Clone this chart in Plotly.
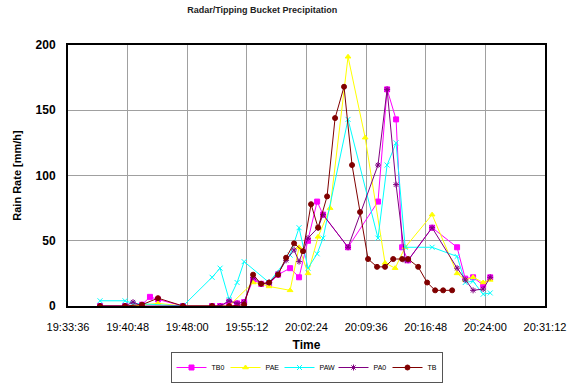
import plotly.graph_objects as go

DAY = "2000-01-01 "

tb0_t = ["19:37:28", "19:40:29", "19:42:32", "19:43:30", "19:44:28", "19:47:29", "19:51:00", "19:51:58",
         "19:53:03", "19:54:01", "19:54:52", "19:55:57", "19:56:55", "19:57:53", "19:58:58", "20:00:25",
         "20:01:30", "20:02:35", "20:03:41", "20:04:24", "20:07:25", "20:11:02", "20:12:08", "20:13:13",
         "20:13:57", "20:14:40", "20:17:34", "20:20:35", "20:21:34", "20:22:31", "20:23:44", "20:24:35"]
tb0_v = [0, 0, 1, 7, 5, 0, 0, 0, 3, 2, 3, 20, 17, 17, 24, 29, 22, 50, 80, 70, 45, 80, 166, 143,
         45, 35, 60, 45, 21, 22, 16, 22]

pae_t = ["19:41:27", "19:44:28", "19:47:29", "19:53:03", "19:55:57", "19:56:55", "19:57:53", "20:00:25",
         "20:01:30", "20:02:35", "20:03:48", "20:05:15", "20:07:25", "20:09:29", "20:11:53", "20:13:06",
         "20:14:19", "20:17:34", "20:20:35", "20:21:34", "20:22:31", "20:23:44", "20:24:35"]
pae_v = [0, 2, 0, 0, 18, 17, 15, 12, 45, 25, 53, 75, 191, 129, 33, 29, 45, 70, 25, 20, 22, 18, 20]

paw_t = ["19:37:28", "19:40:29", "19:41:27", "19:47:29", "19:51:00", "19:51:58", "19:53:03", "19:54:01",
         "19:54:52", "19:57:53", "20:00:25", "20:01:30", "20:02:35", "20:03:41", "20:04:24", "20:07:25",
         "20:11:02", "20:12:08", "20:13:13", "20:14:19", "20:17:34", "20:20:35", "20:21:34", "20:22:31",
         "20:23:44", "20:24:35"]
paw_v = [4, 4, 2, 0, 22, 29, 5, 18, 34, 18, 39, 60, 29, 40, 52, 143, 52, 108, 125, 45, 45, 38, 18, 19,
         9, 10]

pa0_t = ["19:37:28", "19:40:29", "19:41:27", "19:42:32", "19:47:29", "19:51:00", "19:51:58", "19:53:03",
         "19:54:01", "19:54:52", "19:55:57", "19:56:55", "19:57:53", "19:58:58", "19:59:56", "20:00:54",
         "20:01:30", "20:02:35", "20:03:48", "20:04:24", "20:07:25", "20:11:02", "20:12:08", "20:13:13",
         "20:14:19", "20:14:40", "20:17:34", "20:20:35", "20:21:34", "20:22:31", "20:23:44", "20:24:35"]
pa0_v = [0, 0, 3, 0, 0, 0, 0, 4, 2, 3, 22, 17, 18, 25, 35, 43, 34, 52, 60, 70, 45, 108, 166, 93,
         35, 35, 60, 29, 20, 12, 13, 22]

tb_t = ["19:37:28", "19:40:29", "19:42:32", "19:44:28", "19:47:29", "19:51:00", "19:53:03", "19:54:52",
        "19:55:57", "19:56:55", "19:57:53", "19:58:58", "19:59:56", "20:00:54", "20:01:59", "20:02:57",
        "20:03:48", "20:04:53", "20:05:51", "20:06:56", "20:07:54", "20:08:52", "20:09:50", "20:10:55",
        "20:11:53", "20:12:52", "20:13:57", "20:14:40", "20:15:53", "20:16:58", "20:17:56", "20:18:54",
        "20:19:59"]
tb_v = [0, 0, 1, 6, 0, 0, 0, 1, 24, 17, 18, 24, 37, 48, 42, 78, 60, 84, 144, 168, 108, 72, 36, 30,
        30, 36, 36, 36, 30, 18, 12, 12, 12]

x_ticks = ["19:33:36", "19:40:48", "19:48:00", "19:55:12", "20:02:24", "20:09:36", "20:16:48",
           "20:24:00", "20:31:12"]
y_ticks = [0, 50, 100, 150, 200]

series = [
    ("TB0", tb0_t, tb0_v, "#FF00FF", "square"),
    ("PAE", pae_t, pae_v, "#FFFF00", "triangle-up"),
    ("PAW", paw_t, paw_v, "#00FFFF", "x-thin-open"),
    ("PA0", pa0_t, pa0_v, "#800080", "asterisk-open"),
    ("TB", tb_t, tb_v, "#800000", "circle"),
]

fig = go.Figure()
for name, t, v, col, sym in series:
    fig.add_trace(go.Scatter(
        x=[DAY + s for s in t], y=v, name=name, mode="lines+markers",
        line=dict(color=col, width=1),
        marker=dict(color=col, symbol=sym, size=5, line=dict(color=col, width=1)),
    ))

fig.update_layout(
    width=575, height=383,
    margin=dict(l=68, r=30, t=45, b=77, autoexpand=False),
    paper_bgcolor="white", plot_bgcolor="white",
    font=dict(family="Liberation Sans, Arial, sans-serif", color="black"),
    title=dict(text="<b>Radar/Tipping Bucket Precipitation</b>", x=0.456, xanchor="center",
               y=0.982, yanchor="top", font=dict(size=9, color="#222")),
    showlegend=True,
    legend=dict(orientation="h", x=0.5, xanchor="center", yref="container", y=0.0, yanchor="bottom",
                bordercolor="#555", borderwidth=1, font=dict(size=7),
                itemwidth=30, entrywidth=9, entrywidthmode="pixels"),
)
fig.update_xaxes(
    type="date",
    range=[DAY + x_ticks[0], DAY + x_ticks[-1]],
    tickvals=[DAY + s for s in x_ticks], ticktext=x_ticks,
    showgrid=True, gridcolor="#A0A0A0", gridwidth=1,
    showline=True, linecolor="black", linewidth=2, mirror=True,
    ticks="", tickfont=dict(size=11), zeroline=False, ticklabelstandoff=10,
    title=dict(text="<b>Time</b>", font=dict(size=12), standoff=11),
)
fig.update_yaxes(
    range=[0, 200], tickvals=y_ticks, ticktext=["<b>%d</b>" % v for v in y_ticks],
    showgrid=True, gridcolor="#A0A0A0", gridwidth=1,
    showline=True, linecolor="black", linewidth=2, mirror=True,
    ticks="", tickfont=dict(size=12), zeroline=False, ticklabelstandoff=8,
    title=dict(text="<b>Rain Rate [mm/h]</b>", font=dict(size=11), standoff=12),
)

fig.write_html("out.html", config={"displayModeBar": False},
               post_script="document.body.style.margin='0px';")
